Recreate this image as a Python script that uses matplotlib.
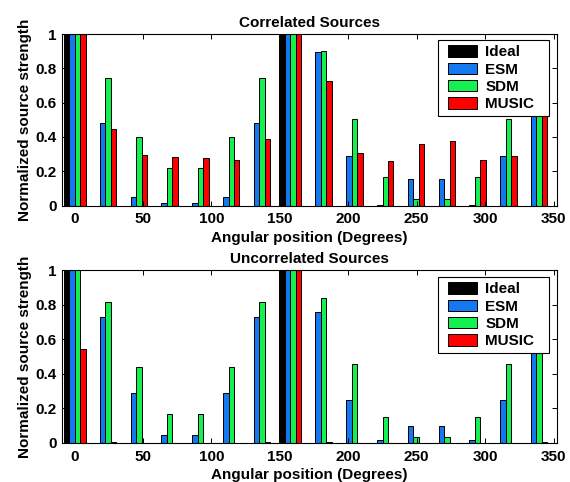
import numpy as np
import matplotlib
matplotlib.use("Agg")
import matplotlib.pyplot as plt
from matplotlib.patches import Patch, Rectangle
from matplotlib.legend_handler import HandlerPatch

plt.rcParams['font.family'] = ['Liberation Sans', 'DejaVu Sans']
plt.rcParams['font.weight'] = 'bold'
plt.rcParams['axes.titleweight'] = 'bold'
plt.rcParams['axes.labelweight'] = 'bold'

angles = np.arange(16) * 22.5
series_names = ["Ideal", "ESM", "SDM", "MUSIC"]
colors = ["#000000", "#1478F0", "#14F050", "#FF0000"]

# Correlated sources
corr_ideal = [1, 0, 0, 0, 0, 0, 0, 1, 0, 0, 0, 0, 0, 0, 0, 0]
corr_esm = [1, 0.48, 0.05, 0.015, 0.015, 0.05, 0.48, 1, 0.895, 0.29, 0.005, 0.155, 0.155, 0.005, 0.29, 0.895]
corr_sdm = [1, 0.743, 0.40, 0.22, 0.22, 0.40, 0.743, 1, 0.903, 0.504, 0.167, 0.037, 0.037, 0.167, 0.504, 0.903]
corr_music = [1, 0.447, 0.295, 0.284, 0.276, 0.264, 0.389, 1, 0.727, 0.307, 0.26, 0.36, 0.377, 0.264, 0.286, 0.727]

# Uncorrelated sources
unc_ideal = [1, 0, 0, 0, 0, 0, 0, 1, 0, 0, 0, 0, 0, 0, 0, 0]
unc_esm = [1, 0.73, 0.29, 0.046, 0.046, 0.29, 0.73, 1, 0.759, 0.249, 0.017, 0.098, 0.098, 0.017, 0.249, 0.759]
unc_sdm = [1, 0.813, 0.44, 0.168, 0.168, 0.44, 0.813, 1, 0.84, 0.457, 0.15, 0.035, 0.035, 0.15, 0.457, 0.84]
unc_music = [0.545, 0.005, 0, 0, 0, 0, 0.005, 1, 0.005, 0, 0, 0, 0, 0, 0, 0.005]

titles = ["Correlated Sources", "Uncorrelated Sources"]
xticks = [0, 50, 100, 150, 200, 250, 300, 350]
yticks = [0, 0.2, 0.4, 0.6, 0.8, 1]
yticklabels = ["0", "0.2", "0.4", "0.6", "0.8", "1"]

fig = plt.figure(figsize=(5.70, 4.82), dpi=100)
W, H = 570, 482
ax_positions = [(62, 34, 557, 205.5), (62, 270, 557, 442.7)]

bar_w = 4.0
offsets = [-6, -2, 2, 6]
datasets = [
    [corr_ideal, corr_esm, corr_sdm, corr_music],
    [unc_ideal, unc_esm, unc_sdm, unc_music],
]
legend_boxes = [(438, 40), (438, 277)]

SHIFT = 3.2  # points of extra left padding inside legend


def make_patch(legend, orig_handle, xdescent, ydescent, width, height, fontsize):
    return Rectangle((-xdescent + SHIFT, -ydescent), width - SHIFT, height)


for i, (x0, y0, x1, y1) in enumerate(ax_positions):
    ax = fig.add_axes([x0 / W, 1 - y1 / H, (x1 - x0) / W, (y1 - y0) / H])
    for vals, name, col, off in zip(datasets[i], series_names, colors, offsets):
        ax.bar(angles + off, vals, width=bar_w, color=col, edgecolor='black',
               linewidth=0.7, label=name)
    ax.set_xlim(-9.2, 352.5)
    ax.set_ylim(0, 1)
    ax.set_xticks(xticks)
    ax.set_xticklabels([str(t) for t in xticks])
    ax.set_yticks(yticks)
    ax.set_yticklabels(yticklabels)
    ax.tick_params(direction='in', top=True, right=True, length=3.5, width=0.7,
                   labelsize=11)
    ax.tick_params(axis='x', pad=5)
    ax.tick_params(axis='y', pad=4)
    for s in ax.spines.values():
        s.set_linewidth(0.8)
    ax.set_title(titles[i], fontsize=11, pad=5)
    ax.set_xlabel("Angular position (Degrees)", fontsize=11, labelpad=3)
    ax.set_ylabel("Normalized source strength", fontsize=11, labelpad=2)

    handles = [Patch(facecolor=c, edgecolor='black', linewidth=0.7, label=n)
               for c, n in zip(colors, series_names)]
    lx, ly = legend_boxes[i]
    bx = (lx - x0) / (x1 - x0)
    bw = (548.5 - lx) / (x1 - x0)
    by = 1 - (ly - y0) / (y1 - y0)
    leg = ax.legend(handles=handles, loc='upper left',
                    bbox_to_anchor=(bx, by, bw, 0), mode='expand',
                    borderaxespad=0, fontsize=11, fancybox=False, framealpha=1,
                    edgecolor='black', handlelength=2.2, handleheight=0.8,
                    handletextpad=0.55, labelspacing=0.2, borderpad=0.35,
                    handler_map={Patch: HandlerPatch(patch_func=make_patch)})
    leg.get_frame().set_linewidth(0.8)

fig.savefig("out.png", dpi=100)
